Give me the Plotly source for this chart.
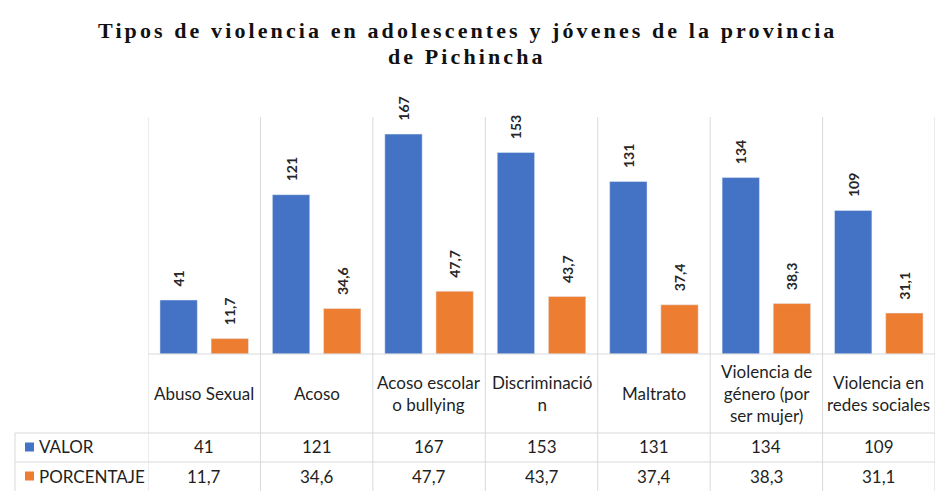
import plotly.graph_objects as go

# ---- data ----
categories = ["Abuso Sexual", "Acoso", "Acoso escolar o bullying", "Discriminación",
              "Maltrato", "Violencia de género (por ser mujer)", "Violencia en redes sociales"]
category_labels = ["Abuso Sexual", "Acoso", "Acoso escolar<br>o bullying", "Discriminació<br>n",
                   "Maltrato", "Violencia de<br>género (por<br>ser mujer)", "Violencia en<br>redes sociales"]
series_names = ["VALOR", "PORCENTAJE"]
valor = [41, 121, 167, 153, 131, 134, 109]
porcentaje = [11.7, 34.6, 47.7, 43.7, 37.4, 38.3, 31.1]
title_lines = ["Tipos de violencia en adolescentes y jóvenes de la provincia", "de Pichincha"]

# ---- styling ----
W, H = 936, 491
ML, MR, MT, MB = 148, 1, 117, 137
PH = H - MT - MB
PW = W - ML - MR
BLUE = "#4472C4"
ORANGE = "#ED7D31"
GRID = "#D9D9D9"
TXT = "#1f1f1f"
FONT = "Lato"
LABEL_PAD = "\u2002\u00a0"  # lifts the rotated value labels off the bar tops


def fmt_pct(v):
    return f"{v:.1f}".replace(".", ",")


def py(px):
    """pixel y (from top) -> paper y"""
    return (H - MB - px) / PH


def pxx(px):
    """pixel x -> paper x"""
    return (px - ML) / PW


fig = go.Figure()
fig.add_trace(go.Bar(
    x=categories, y=valor, name=series_names[0], marker_color=BLUE,
    text=[LABEL_PAD + str(v) for v in valor], textposition="outside", textangle=-90,
    textfont=dict(family=FONT, size=14, color="#262626", weight="bold"), cliponaxis=False,
    constraintext="none"))
fig.add_trace(go.Bar(
    x=categories, y=porcentaje, name=series_names[1], marker_color=ORANGE,
    text=[LABEL_PAD + fmt_pct(v) for v in porcentaje], textposition="outside", textangle=-90,
    textfont=dict(family=FONT, size=14, color="#262626", weight="bold"), cliponaxis=False,
    constraintext="none"))

shapes = []
# vertical separators (category boundaries), extending through the data table
for i in range(len(categories) + 1):
    shapes.append(dict(type="line", xref="x", yref="paper", x0=i - 0.5, x1=i - 0.5,
                       y0=py(H), y1=1, line=dict(color=GRID, width=1)))
# baseline
shapes.append(dict(type="line", xref="paper", yref="paper", x0=0, x1=1, y0=0, y1=0,
                   line=dict(color=GRID, width=1)))
# table horizontal lines
for ypx in (433, 462):
    shapes.append(dict(type="line", xref="paper", yref="paper", x0=pxx(15), x1=1,
                       y0=py(ypx), y1=py(ypx), line=dict(color=GRID, width=1)))
# table left border
shapes.append(dict(type="line", xref="paper", yref="paper", x0=pxx(15), x1=pxx(15),
                   y0=py(H), y1=py(433), line=dict(color=GRID, width=1)))
# legend keys
for ypx, col in ((447, BLUE), (476, ORANGE)):
    shapes.append(dict(type="rect", xref="paper", yref="paper", x0=pxx(25), x1=pxx(34),
                       y0=py(ypx + 4.5), y1=py(ypx - 4.5), fillcolor=col, line=dict(width=0)))

annotations = []
for i, cat in enumerate(categories):
    annotations.append(dict(x=cat, xref="x", y=py(393), yref="paper", text=category_labels[i],
                            showarrow=False, xanchor="center", yanchor="middle",
                            font=dict(family=FONT, size=17, color=TXT)))
    annotations.append(dict(x=cat, xref="x", y=py(447), yref="paper", text=str(valor[i]),
                            showarrow=False, xanchor="center", yanchor="middle",
                            font=dict(family=FONT, size=17, color=TXT)))
    annotations.append(dict(x=cat, xref="x", y=py(476), yref="paper", text=fmt_pct(porcentaje[i]),
                            showarrow=False, xanchor="center", yanchor="middle",
                            font=dict(family=FONT, size=17, color=TXT)))
for ypx, name in ((447, series_names[0]), (476, series_names[1])):
    annotations.append(dict(x=pxx(37), xref="paper", y=py(ypx), yref="paper", text=name,
                            showarrow=False, xanchor="left", yanchor="middle",
                            font=dict(family=FONT, size=17, color=TXT)))

# title, two lines placed individually
for ypx, line in ((30, title_lines[0]), (57, title_lines[1])):
    annotations.append(dict(x=pxx(467), xref="paper", y=py(ypx), yref="paper",
                            text=f"<span style='letter-spacing:3.1px'>{line}</span>",
                            showarrow=False, xanchor="center", yanchor="middle",
                            font=dict(family="Liberation Serif", size=22, color="#111111",
                                      weight="bold")))

fig.update_layout(
    width=W, height=H,
    margin=dict(l=ML, r=MR, t=MT, b=MB),
    paper_bgcolor="white", plot_bgcolor="white",
    barmode="group", bargap=0.09, bargroupgap=0.27,
    showlegend=False,
    xaxis=dict(range=[-0.5, len(categories) - 0.5], showticklabels=False, showgrid=False,
               zeroline=False, showline=False, ticks=""),
    yaxis=dict(range=[0, 180], visible=False, showgrid=False, zeroline=False),
    shapes=shapes, annotations=annotations,
)

fig.write_html("out.html", config={"displayModeBar": False},
               post_script="document.body.style.margin='0';")
